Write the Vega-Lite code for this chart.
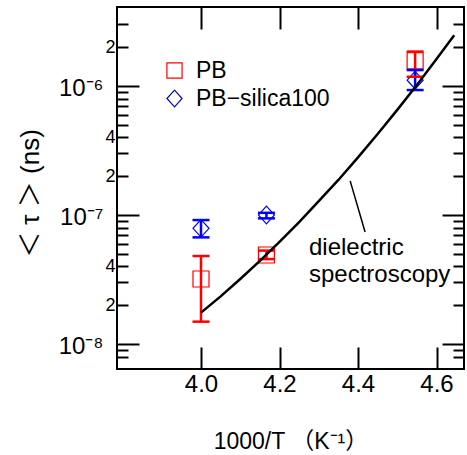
{
  "$schema": "https://vega.github.io/schema/vega-lite/v6.json",
  "width": 347,
  "height": 362,
  "autosize": {"type": "none"},
  "padding": {"left": 117, "top": 7, "right": 3, "bottom": 86},
  "background": "white",
  "config": {
    "view": {"stroke": "black", "strokeWidth": 2},
    "axis": {"grid": false, "domain": false, "tickColor": "black", "tickWidth": 2, "labelColor": "black", "titleColor": "black", "labelFont": "Liberation Sans", "titleFont": "Liberation Sans, Noto Sans CJK JP", "titleFontWeight": "normal"},
    "legend": {"labelColor": "black"}
  },
  "data": {
    "values": [
      {"kind": "pt", "series": "PB", "x": 4.0, "tau": 3.19e-8, "lo": 1.49e-8, "hi": 4.81e-8},
      {"kind": "pt", "series": "PB", "x": 4.1667, "tau": 4.9e-8, "lo": 4.55e-8, "hi": 5.3e-8},
      {"kind": "pt", "series": "PB", "x": 4.5455, "tau": 1.57e-6, "lo": 1.18e-6, "hi": 1.85e-6},
      {"kind": "pt", "series": "PB−silica100", "x": 4.0, "tau": 7.88e-8, "lo": 6.71e-8, "hi": 9.14e-8},
      {"kind": "pt", "series": "PB−silica100", "x": 4.1667, "tau": 1.0e-7, "lo": 9.42e-8, "hi": 1.04e-7},
      {"kind": "pt", "series": "PB−silica100", "x": 4.5455, "tau": 1.11e-6, "lo": 9.31e-7, "hi": 1.33e-6},
      {"kind": "ds", "x": 4.0, "tau": 1.75e-8},
      {"kind": "ds", "x": 4.05, "tau": 2.34e-8},
      {"kind": "ds", "x": 4.1, "tau": 3.19e-8},
      {"kind": "ds", "x": 4.15, "tau": 4.41e-8},
      {"kind": "ds", "x": 4.2, "tau": 6.19e-8},
      {"kind": "ds", "x": 4.25, "tau": 8.82e-8},
      {"kind": "ds", "x": 4.3, "tau": 1.28e-7},
      {"kind": "ds", "x": 4.35, "tau": 1.87e-7},
      {"kind": "ds", "x": 4.4, "tau": 2.8e-7},
      {"kind": "ds", "x": 4.45, "tau": 4.25e-7},
      {"kind": "ds", "x": 4.5, "tau": 6.53e-7},
      {"kind": "ds", "x": 4.55, "tau": 1.02e-6},
      {"kind": "ds", "x": 4.6, "tau": 1.62e-6},
      {"kind": "ds", "x": 4.645, "tau": 2.48e-6},
      {"kind": "ptr", "x": 4.38, "tau": 1.84e-7},
      {"kind": "ptr", "x": 4.418, "tau": 7.38e-8},
      {"kind": "txt", "x": 4.275, "tau": 4.9e-8, "text": "dielectric"},
      {"kind": "txt", "x": 4.275, "tau": 3.03e-8, "text": "spectroscopy"}
    ]
  },
  "layer": [
    {
      "transform": [{"filter": "datum.kind === 'pt'"}],
      "mark": {"type": "point", "filled": false, "size": 256, "strokeWidth": 1.2, "opacity": 1},
      "encoding": {
        "x": {"field": "x", "type": "quantitative", "scale": {"domain": [3.786, 4.67], "nice": false, "zero": false}, "axis": null},
        "y": {"field": "tau", "type": "quantitative", "scale": {"type": "log", "domain": [6.4e-9, 4.1e-6], "nice": false}, "axis": null},
        "color": {"field": "series", "type": "nominal", "scale": {"domain": ["PB", "PB−silica100"], "range": ["#ff0000", "#0000ff"]},
          "legend": {"orient": "none", "legendX": 46, "legendY": 52, "title": null, "labelFontSize": 23, "labelFont": "Liberation Sans", "symbolSize": 230, "symbolStrokeWidth": 1.2, "labelOffset": 10, "rowPadding": 4, "padding": 0}},
        "shape": {"field": "series", "type": "nominal", "scale": {"domain": ["PB", "PB−silica100"], "range": ["square", "M0,-1.1L1,0L0,1.1L-1,0Z"]},
          "legend": {"orient": "none", "legendX": 46, "legendY": 52, "title": null, "labelFontSize": 23, "labelFont": "Liberation Sans", "symbolSize": 230, "symbolStrokeWidth": 1.2, "labelOffset": 10, "rowPadding": 4, "padding": 0}}
      }
    },
    {
      "transform": [{"filter": "datum.kind === 'pt'"}],
      "mark": {"type": "rule", "strokeWidth": 2.5},
      "encoding": {
        "x": {"field": "x", "type": "quantitative", "scale": {"domain": [3.786, 4.67], "nice": false, "zero": false},
          "axis": {"orient": "top", "values": [4.0, 4.2, 4.4, 4.6], "tickSize": -22, "labels": false, "title": null}},
        "y": {"field": "lo", "type": "quantitative", "scale": {"type": "log", "domain": [6.4e-9, 4.1e-6], "nice": false},
          "axis": {"orient": "right", "labels": false, "title": null,
            "values": [8e-9, 9e-9, 1e-8, 2e-8, 3e-8, 4e-8, 5e-8, 6e-8, 7e-8, 8e-8, 9e-8, 1e-7, 2e-7, 3e-7, 4e-7, 5e-7, 6e-7, 7e-7, 8e-7, 9e-7, 1e-6, 2e-6, 3e-6],
            "tickSize": {"condition": {"test": "abs(log(datum.value)/LN10 - round(log(datum.value)/LN10)) < 0.001", "value": -22}, "value": -11}}},
        "y2": {"field": "hi"},
        "color": {"condition": {"test": "datum.series === 'PB'", "value": "#ff0000"}, "value": "#0000ff"}
      }
    },
    {
      "transform": [{"filter": "datum.kind === 'pt'"}],
      "mark": {"type": "tick", "orient": "horizontal", "size": 17, "thickness": 2.5, "opacity": 1},
      "encoding": {
        "x": {"field": "x", "type": "quantitative", "scale": {"domain": [3.786, 4.67], "nice": false, "zero": false}, "axis": null},
        "y": {"field": "hi", "type": "quantitative", "scale": {"type": "log", "domain": [6.4e-9, 4.1e-6], "nice": false}, "axis": null},
        "color": {"condition": {"test": "datum.series === 'PB'", "value": "#ff0000"}, "value": "#0000ff"}
      }
    },
    {
      "transform": [{"filter": "datum.kind === 'pt'"}],
      "mark": {"type": "tick", "orient": "horizontal", "size": 17, "thickness": 2.5, "opacity": 1},
      "encoding": {
        "x": {"field": "x", "type": "quantitative", "scale": {"domain": [3.786, 4.67], "nice": false, "zero": false}, "axis": null},
        "y": {"field": "lo", "type": "quantitative", "scale": {"type": "log", "domain": [6.4e-9, 4.1e-6], "nice": false}, "axis": null},
        "color": {"condition": {"test": "datum.series === 'PB'", "value": "#ff0000"}, "value": "#0000ff"}
      }
    },
    {
      "transform": [{"filter": "datum.kind === 'ds'"}],
      "mark": {"type": "line", "color": "black", "strokeWidth": 2.5},
      "encoding": {
        "x": {"field": "x", "type": "quantitative", "scale": {"domain": [3.786, 4.67], "nice": false, "zero": false},
          "axis": {"orient": "bottom", "values": [4.0, 4.2, 4.4, 4.6], "format": ".1f", "tickSize": -22, "labelFontSize": 24, "labelPadding": 25,
            "title": "1000/T （K⁻¹）", "titleFontSize": 23, "titleY": 79, "titleBaseline": "alphabetic"}},
        "y": {"field": "tau", "type": "quantitative", "scale": {"type": "log", "domain": [6.4e-9, 4.1e-6], "nice": false},
          "axis": {"orient": "left",
            "values": [8e-9, 9e-9, 1e-8, 2e-8, 3e-8, 4e-8, 5e-8, 6e-8, 7e-8, 8e-8, 9e-8, 1e-7, 2e-7, 3e-7, 4e-7, 5e-7, 6e-7, 7e-7, 8e-7, 9e-7, 1e-6, 2e-6, 3e-6],
            "tickSize": {"condition": {"test": "abs(log(datum.value)/LN10 - round(log(datum.value)/LN10)) < 0.001", "value": -22}, "value": -11},
            "labelExpr": "abs(datum.value/1e-8-1)<0.01 ? '10⁻⁸' : abs(datum.value/1e-7-1)<0.01 ? '10⁻⁷' : abs(datum.value/1e-6-1)<0.01 ? '10⁻⁶' : (abs(datum.value/2e-8-1)<0.01 || abs(datum.value/2e-7-1)<0.01 || abs(datum.value/2e-6-1)<0.01) ? '2' : (abs(datum.value/4e-8-1)<0.01 || abs(datum.value/4e-7-1)<0.01) ? '4' : ''",
            "labelFontSize": {"condition": {"test": "abs(log(datum.value)/LN10 - round(log(datum.value)/LN10)) < 0.001", "value": 24}, "value": 18},
            "labelPadding": {"condition": {"test": "abs(log(datum.value)/LN10 - round(log(datum.value)/LN10)) < 0.001", "value": 36}, "value": 13},
            "labelOffset": {"condition": {"test": "abs(log(datum.value)/LN10 - round(log(datum.value)/LN10)) < 0.001", "value": 2}, "value": 0},
            "title": "＜ τ ＞ (ns)", "titleFontSize": 26, "titleX": -79, "titleY": 186, "titleAngle": -90, "titleAlign": "center", "titleBaseline": "alphabetic"}}
      }
    },
    {
      "transform": [{"filter": "datum.kind === 'ptr'"}],
      "mark": {"type": "line", "color": "black", "strokeWidth": 1.5},
      "encoding": {
        "x": {"field": "x", "type": "quantitative", "scale": {"domain": [3.786, 4.67], "nice": false, "zero": false}, "axis": null},
        "y": {"field": "tau", "type": "quantitative", "scale": {"type": "log", "domain": [6.4e-9, 4.1e-6], "nice": false}, "axis": null}
      }
    },
    {
      "transform": [{"filter": "datum.kind === 'txt'"}],
      "mark": {"type": "text", "align": "left", "baseline": "alphabetic", "fontSize": 24, "font": "Liberation Sans", "color": "black"},
      "encoding": {
        "x": {"field": "x", "type": "quantitative", "scale": {"domain": [3.786, 4.67], "nice": false, "zero": false}, "axis": null},
        "y": {"field": "tau", "type": "quantitative", "scale": {"type": "log", "domain": [6.4e-9, 4.1e-6], "nice": false}, "axis": null},
        "text": {"field": "text"}
      }
    }
  ],
  "resolve": {"axis": {"x": "independent", "y": "independent"}}
}
